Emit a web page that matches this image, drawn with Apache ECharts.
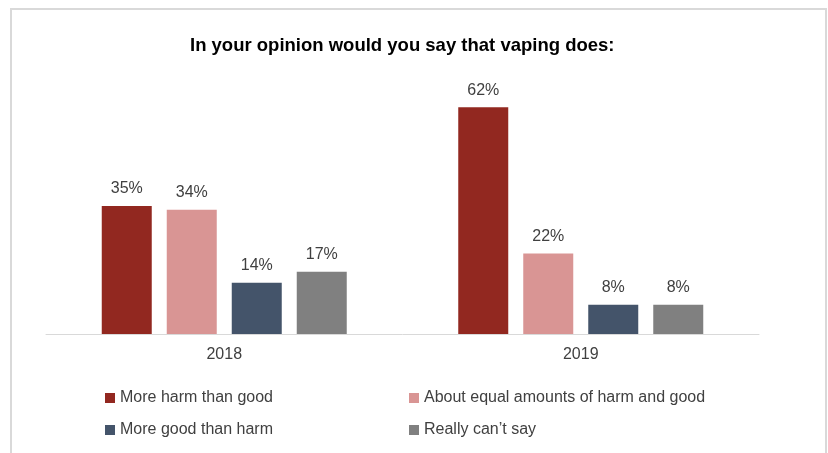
<!DOCTYPE html>
<html><head><meta charset="utf-8">
<script src="https://cdn.jsdelivr.net/npm/echarts@6/dist/echarts.min.js"></script>
<style>html,body{margin:0;padding:0;background:#fff}#c{width:828px;height:453px}</style>
</head><body><div id="c"></div>
<script>
const titleText = "In your opinion would you say that vaping does:";
const categories = ["2018", "2019"];
const seriesNames = ["More harm than good", "About equal amounts of harm and good", "More good than harm", "Really can\u2019t say"];
const moreHarm = [35, 62];
const aboutEqual = [34, 22];
const moreGood = [14, 8];
const cantSay = [17, 8];
const colors = ["#922820", "#D99594", "#44546A", "#808080"];

const values = [moreHarm, aboutEqual, moreGood, cantSay];
const font = "'Liberation Sans', Arial, sans-serif";
const chart = echarts.init(document.getElementById('c'), null, {renderer: 'canvas'});
const legendPos = [[105, 390], [409, 390], [105, 422], [409, 422]];
chart.setOption({
  animation: false,
  backgroundColor: '#fff',
  title: {text: titleText, left: 190, top: 36, padding: 0, textStyle: {fontFamily: font, fontSize: 18.5, fontWeight: 'bold', color: '#000'}},
  graphic: [{type: 'rect', shape: {x: 11, y: 9, width: 815, height: 460}, style: {fill: 'none', stroke: '#d9d9d9', lineWidth: 2}, silent: true}],
  grid: {left: 46, right: 69, top: 78, bottom: 119},
  legend: seriesNames.map((n, i) => ({
    data: [n], left: legendPos[i][0], top: legendPos[i][1], itemWidth: 10, itemHeight: 10, itemGap: 5,
    icon: 'rect', padding: 0, textStyle: {fontFamily: font, fontSize: 16, color: '#404040'}
  })),
  xAxis: {type: 'category', data: categories,
    axisLine: {lineStyle: {color: '#d9d9d9', width: 1}}, axisTick: {show: false},
    axisLabel: {fontFamily: font, fontSize: 16, color: '#404040', margin: 13}},
  yAxis: {type: 'value', min: 0, max: 70, show: false, splitLine: {show: false}},
  series: seriesNames.map((n, i) => ({
    name: n, type: 'bar', data: values[i], barWidth: 50, barGap: '30%',
    itemStyle: {color: colors[i]},
    label: {show: true, position: 'top', distance: 9, formatter: '{c}%', fontFamily: font, fontSize: 16, color: '#404040'}
  }))
});
</script></body></html>
